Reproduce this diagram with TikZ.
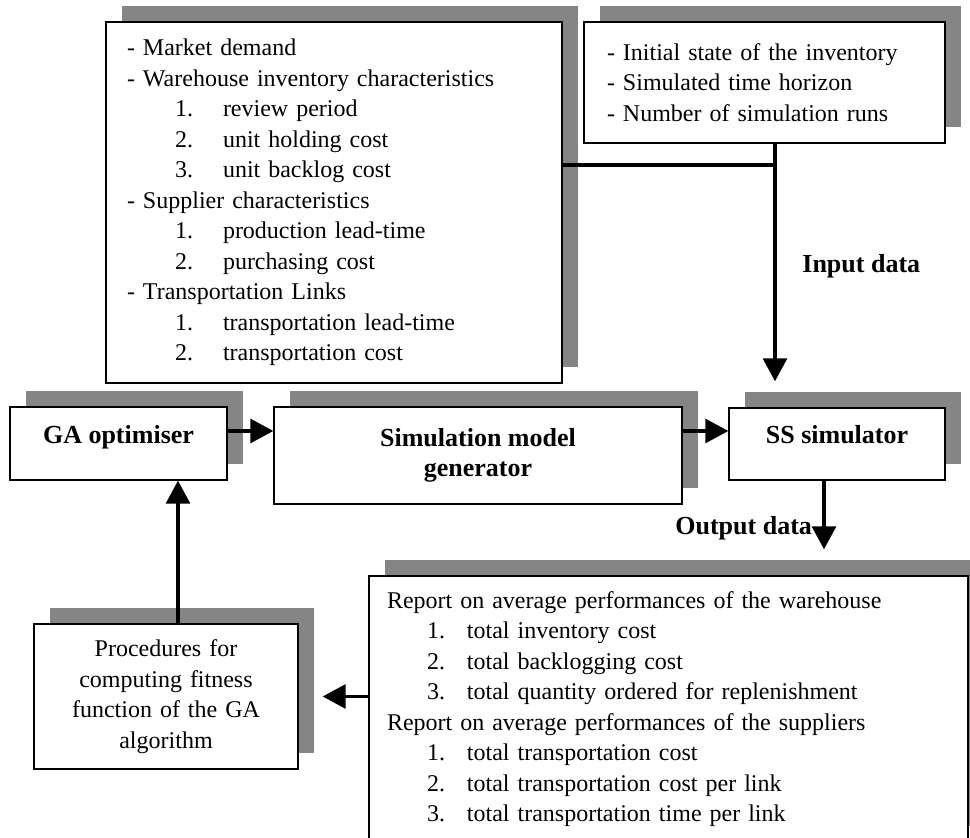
\documentclass[tikz,border=0pt]{standalone}
\usepackage{fontspec}
\setmainfont{Liberation Serif}
\usetikzlibrary{arrows.meta,shadows}

\tikzset{
  box/.style={draw, line width=0.7pt, fill=white, inner ysep=0pt,
    general shadow={fill=black!48, shadow xshift=8pt, shadow yshift=8pt}},
  listbox/.style={box, align=left, font=\fontsize{12}{15.25}\selectfont},
  procbox/.style={box, align=center, font=\fontsize{12}{15.25}\selectfont},
  titlebox/.style={box, align=center, font=\fontsize{13}{15}\selectfont\bfseries},
  lbl/.style={font=\fontsize{13}{15}\selectfont\bfseries, inner sep=0pt},
  conn/.style={line width=1.6pt},
  arr/.style={conn, -{Triangle[length=11.5pt, width=12pt]}}
}
\newcommand{\numitem}[3][24pt]{\hspace*{#1}\makebox[#1][l]{#2}#3}

\begin{document}
\begin{tikzpicture}[x=0.5pt, y=-0.5pt]

  \useasboundingbox (0,0) rectangle (970,838);
  \clip (0,0) rectangle (970,838);
  \fill[white] (0,0) rectangle (970,838);

  % input data boxes
  \node[listbox, inner xsep=10.5pt, text width=207pt, minimum height=180.5pt] (inputs) at (334,202.5)
    {- Market demand\\
     - Warehouse inventory characteristics\\
     \numitem{1.}{review period}\\
     \numitem{2.}{unit holding cost}\\
     \numitem{3.}{unit backlog cost}\\
     - Supplier characteristics\\
     \numitem{1.}{production lead-time}\\
     \numitem{2.}{purchasing cost}\\
     - Transportation Links\\
     \numitem{1.}{transportation lead-time}\\
     \numitem{2.}{transportation cost}};
  \node[listbox, inner xsep=11.5pt, text width=157.5pt, minimum height=60.5pt] (settings) at (764.5,82.5)
    {- Initial state of the inventory\\
     - Simulated time horizon\\
     - Number of simulation runs};

  % main chain
  \node[titlebox, minimum width=108.5pt, minimum height=36.5pt, text height=8pt, text depth=8pt] (ga) at (118.5,443.5) {GA optimiser};
  \node[titlebox, minimum width=204pt, minimum height=48.5pt] (simgen) at (478,455.5) {Simulation model\\ generator};
  \node[titlebox, minimum width=108pt, minimum height=36pt, text height=8pt, text depth=8pt] (ssim) at (837,444) {SS simulator};

  % results
  \node[procbox, text width=120pt, minimum width=132pt, minimum height=72.5pt] (fitness) at (166,696.5)
    {Procedures for\\ computing fitness\\ function of the GA\\ algorithm};
  \node[listbox, inner xsep=9pt, text width=281.5pt, minimum height=133pt] (report) at (668.5,709)
    {Report on average performances of the warehouse\\
     \numitem[20pt]{1.}{total inventory cost}\\
     \numitem[20pt]{2.}{total backlogging cost}\\
     \numitem[20pt]{3.}{total quantity ordered for replenishment}\\
     Report on average performances of the suppliers\\
     \numitem[20pt]{1.}{total transportation cost}\\
     \numitem[20pt]{2.}{total transportation cost per link}\\
     \numitem[20pt]{3.}{total transportation time per link}};

  \node[lbl, anchor=base west] (inlabel) at (802,273) {Input data};
  \node[lbl, anchor=base west] (outlabel) at (675,535) {Output data};

  % connectors
  \coordinate (tee) at (775,165);
  \draw[conn] (inputs.east |- tee) -- (tee);
  \draw[arr, shorten >=13pt] (settings.south -| tee) -- (ssim.north -| tee);
  \draw[arr] ([yshift=6.25pt]ga.east) -- ([yshift=6.25pt]ga.east -| simgen.west);
  \draw[arr] ([yshift=6.25pt]ga.east -| simgen.east) -- ([yshift=6.25pt]ga.east -| ssim.west);
  \draw[arr, shorten >=13pt] ([xshift=-6.5pt]ssim.south) -- ([xshift=-6.5pt]ssim.south |- report.north);
  \draw[arr] (report.west |- fitness.east) -- ([xshift=12pt]fitness.east);
  \draw[arr] ([xshift=6pt]fitness.north) -- ([xshift=6pt]fitness.north |- ga.south);

\end{tikzpicture}
\end{document}
